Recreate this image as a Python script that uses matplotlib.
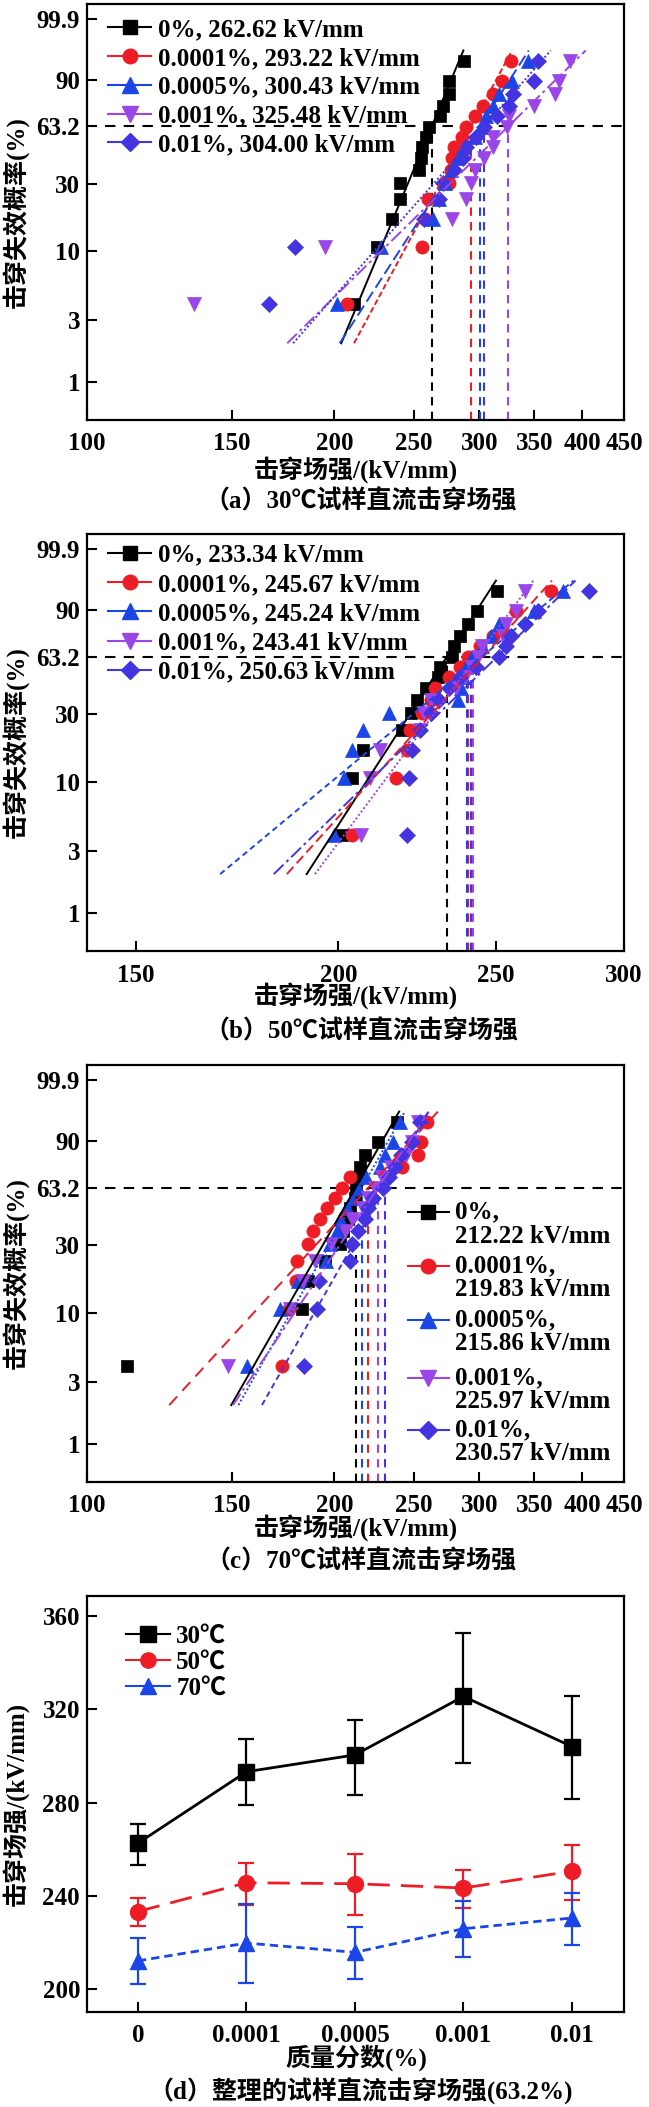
import numpy as np
import matplotlib
matplotlib.use("Agg")
import matplotlib.pyplot as plt
from matplotlib.lines import Line2D
from matplotlib.ticker import FixedLocator, FixedFormatter, NullLocator

plt.rcParams['font.family'] = ['Liberation Serif', 'Noto Sans CJK SC']
plt.rcParams['font.weight'] = 'bold'
plt.rcParams['font.size'] = 18
plt.rcParams['axes.linewidth'] = 1.6

# ---------------- data ----------------
contents = ["0%", "0.0001%", "0.0005%", "0.001%", "0.01%"]
# failure probability (%) of each rank
levels = [4.0, 10.7, 17.2, 23.6, 30.3, 36.8, 43.3, 50.0, 56.5, 63.0, 69.9, 76.5, 83.2, 89.7, 96.1]

# 30 C
eta_30 = [262.62, 293.22, 300.43, 325.48, 304.00]
beta_30 = [15.4, 11.9, 9.95, 6.3, 7.3]
a0 = [211.2, 225.1, 235.0, 240.3, 240.3, 253.5, 254.9, 255.6, 258.5, 260.7, 268.8, 271.0, 275.7, 275.7, 287.2]
a1 = [207.1, 255.7, 258.0, 260.2, 275.7, 277.4, 278.0, 279.6, 286.1, 288.8, 296.7, 303.6, 311.4, 319.4, 328.1]
a2 = [201.2, 227.7, 263.2, 267.8, 272.5, 277.4, 282.2, 287.5, 296.7, 302.5, 306.0, 312.2, 316.8, 328.9, 343.7]
a3 = [135.1, 194.7, 278.0, 288.8, 293.2, 296.7, 304.3, 312.2, 312.2, 324.3, 326.2, 349.7, 370.6, 375.0, 387.3]
a4 = [166.5, 179.1, 257.2, 267.8, 271.0, 279.6, 286.5, 288.8, 297.3, 304.3, 315.1, 326.2, 330.0, 349.7, 353.8]

# 50 C
eta_50 = [233.34, 245.67, 245.24, 243.41, 250.63]
beta_50 = [19.6, 14.0, 10.5, 17.0, 12.3]
vline_50 = [233.34, 240.3, 240.0, 242.0, 241.6]
b0 = [201.0, 203.9, 207.1, 219.0, 221.6, 223.6, 226.4, 230.3, 231.0, 235.1, 235.8, 237.6, 240.4, 243.5, 250.5]
b1 = [203.9, 217.2, 220.4, 221.4, 225.3, 228.0, 229.3, 234.1, 237.6, 240.4, 244.6, 249.0, 252.8, 257.3, 270.5]
b2 = [198.9, 201.5, 203.9, 207.2, 215.0, 236.9, 237.9, 238.7, 239.7, 241.8, 245.4, 248.3, 251.2, 264.1, 275.2]
b3 = [206.5, 209.2, 212.3, 224.5, 226.0, 228.0, 236.2, 239.5, 241.8, 243.9, 245.4, 252.8, 253.6, 257.3, 260.6]
b4 = [220.4, 221.2, 222.0, 224.7, 228.0, 230.7, 234.1, 237.6, 243.2, 251.2, 253.6, 255.6, 260.6, 265.7, 285.4]

# 70 C
eta_70 = [212.22, 219.83, 215.86, 225.97, 230.57]
beta_70 = [11.2, 7.0, 11.3, 9.6, 11.3]
c0 = [112.0, 182.8, 185.9, 194.8, 203.1, 205.0, 207.9, 208.9, 211.8, 212.4, 213.5, 214.8, 217.9, 226.1, 238.1]
c1 = [172.8, 176.1, 179.6, 180.1, 185.9, 188.2, 192.1, 195.7, 200.3, 204.1, 208.9, 241.5, 252.9, 254.5, 259.2]
c2 = [156.7, 171.7, 180.7, 195.3, 197.5, 201.6, 203.1, 207.0, 210.1, 213.6, 218.5, 227.2, 230.4, 235.8, 240.3]
c3 = [148.6, 176.6, 183.1, 189.2, 198.1, 206.0, 210.1, 216.8, 219.7, 223.8, 228.5, 234.4, 244.1, 248.5, 252.7]
c4 = [183.8, 190.3, 191.7, 208.8, 210.0, 213.6, 217.9, 219.7, 223.0, 229.1, 233.0, 237.2, 241.3, 248.4, 254.2]

# (d) summary at 63.2%, with error bar ends
cats = ["0", "0.0001", "0.0005", "0.001", "0.01"]
lo_30 = [253.1, 279.1, 283.4, 296.8, 281.6]
hi_30 = [270.9, 307.4, 315.5, 352.7, 325.7]
lo_50 = [227.0, 236.0, 231.7, 234.9, 238.4]
hi_50 = [239.1, 254.2, 258.1, 251.0, 262.0]
lo_70 = [202.3, 202.6, 204.4, 213.7, 219.2]
hi_70 = [222.0, 236.4, 226.5, 237.8, 241.2]

# ---------------- styles ----------------
colors = ['#000000', '#ee1c25', '#1a46e8', '#9b45e8', '#4433e0']
markers = ['s', 'o', '^', 'v', 'D']
msizes = [8.5, 9.5, 10.5, 10.5, 8.5]
styles_a = ['-', (0, (3, 1.5)), (0, (6, 2.5)), (0, (7, 2, 1.5, 2)), (0, (1, 1.2))]
styles_b = ['-', (0, (5, 2.5)), (0, (3, 2)), (0, (1, 1.2)), (0, (7, 2, 1.5, 2))]
styles_c = ['-', (0, (6, 4)), (0, (1, 1.2)), (0, (7, 2, 1.5, 2)), (0, (3, 2))]

W_PX, H_PX = 649, 2107
fig = plt.figure(figsize=(W_PX / 100, H_PX / 100), dpi=100)


def add_ax(top, bottom):
    return fig.add_axes([87 / W_PX, 1 - bottom / H_PX, 537 / W_PX, (bottom - top) / H_PX])


def wb(F):
    F = np.clip(np.asarray(F, dtype=float), 1e-6, 100 - 1e-9)
    return np.log(-np.log(1 - F / 100))


def wb_inv(w):
    return 100 * (1 - np.exp(-np.exp(w)))


def weibull_panel(ax, series, etas, betas, vlines, styles, xlim, xticks):
    ax.set_xscale('log')
    ax.set_yscale('function', functions=(wb, wb_inv))
    for i, pts in enumerate(series):
        ax.plot(pts, levels, ls='none', marker=markers[i], ms=msizes[i],
                color=colors[i], mec=colors[i], mew=0.5, zorder=3)
        # fitted Weibull line between 2% and 98%
        xs = [etas[i] * (-np.log(1 - 0.02)) ** (1 / betas[i]),
              etas[i] * (-np.log(0.02)) ** (1 / betas[i])]
        ax.plot(xs, [2, 98], color=colors[i], ls=styles[i], lw=1.4, zorder=4)
    ylo = 0.507
    for i, v in enumerate(vlines):
        ax.plot([v, v], [ylo, 63.2], color=colors[i], ls=(0, (4, 3)), lw=1.5, zorder=2)
    ax.axhline(63.2, xmin=0.034, color='black', ls=(0, (5, 4)), lw=1.5, zorder=2)
    ax.set_xlim(*xlim)
    ax.set_ylim(ylo, 99.988)
    ax.xaxis.set_major_locator(FixedLocator(xticks))
    ax.xaxis.set_major_formatter(FixedFormatter([str(t) for t in xticks]))
    ax.xaxis.set_minor_locator(NullLocator())
    ax.yaxis.set_major_locator(FixedLocator([1, 3, 10, 30, 63.2, 90, 99.9]))
    ax.yaxis.set_major_formatter(FixedFormatter(['1', '3', '10', '30', '63.2', '90', '99.9']))
    ax.yaxis.set_minor_locator(NullLocator())
    ax.tick_params(direction='in', length=7, width=1.5, top=False, right=False, labelsize=18)
    ax.tick_params(axis='x', pad=9)
    ax.tick_params(axis='y', pad=5)


def key_handles(lw=1.5):
    return [Line2D([], [], color=colors[i], marker=markers[i], ms=msizes[i] + 1,
                   mec=colors[i], lw=lw) for i in range(5)]


ticks_wide = [100, 150, 200, 250, 300, 350, 400, 450]

# (a) 30 C
ax_a = add_ax(4, 420)
weibull_panel(ax_a, [a0, a1, a2, a3, a4], eta_30, beta_30, eta_30, styles_a,
              (100, 450), ticks_wide)
ax_a.legend(key_handles(), [f"{c}, {e:.2f} kV/mm" for c, e in zip(contents, eta_30)],
            loc='upper left', bbox_to_anchor=(0.04, 0.966), frameon=False,
            borderpad=0, borderaxespad=0, handlelength=1.7, handletextpad=0.3,
            labelspacing=0.23, fontsize=18)

# (b) 50 C
ax_b = add_ax(534, 951)
weibull_panel(ax_b, [b0, b1, b2, b3, b4], eta_50, beta_50, vline_50, styles_b,
              (140, 300), [150, 200, 250, 300])
ax_b.legend(key_handles(), [f"{c}, {e:.2f} kV/mm" for c, e in zip(contents, eta_50)],
            loc='upper left', bbox_to_anchor=(0.04, 0.977), frameon=False,
            borderpad=0, borderaxespad=0, handlelength=1.7, handletextpad=0.3,
            labelspacing=0.25, fontsize=18)

# (c) 70 C
ax_c = add_ax(1065, 1482)
weibull_panel(ax_c, [c0, c1, c2, c3, c4], eta_70, beta_70, eta_70, styles_c,
              (100, 450), ticks_wide)
# key on the right, two text lines per entry, handle beside the first line
key_rows = [1212, 1266, 1320, 1378, 1430]
for i, row in enumerate(key_rows):
    ya = (1482 - row) / 417
    x0, x1, xm, xt = [(p - 87) / 537 for p in (407.7, 449.0, 428.4, 455.0)]
    ax_c.plot([x0, x1], [ya, ya], color=colors[i], lw=1.5, transform=ax_c.transAxes, clip_on=False)
    ax_c.plot([xm], [ya], marker=markers[i], ms=msizes[i] + 1, color=colors[i],
              transform=ax_c.transAxes, clip_on=False)
    ax_c.text(xt, ya, contents[i] + ",", transform=ax_c.transAxes, va='center', ha='left', fontsize=18)
    ax_c.text(xt, ya - 24 / 417, f"{eta_70[i]:.2f} kV/mm", transform=ax_c.transAxes,
              va='center', ha='left', fontsize=18)

# (d) summary
ax_d = add_ax(1596, 2012)
x = np.arange(len(cats))
sets = [(eta_30, lo_30, hi_30, '30℃', '-', 's', colors[0]),
        (eta_50, lo_50, hi_50, '50℃', (0, (8, 4)), 'o', colors[1]),
        (eta_70, lo_70, hi_70, '70℃', (0, (3, 1.8)), '^', colors[2])]
for vals, lo, hi, lab, ls, mk, col in sets:
    vals = np.array(vals)
    err = [vals - np.array(lo), np.array(hi) - vals]
    ax_d.errorbar(x, vals, yerr=err, color=col, ls=ls, lw=2, marker=mk, ms=11.5,
                  capsize=6, elinewidth=1.6, capthick=1.6, label=lab)
ax_d.set_xlim(-0.47, 4.48)
ax_d.set_ylim(190.3, 368.5)
ax_d.set_xticks(x)
ax_d.set_xticklabels(cats)
ax_d.set_yticks([200, 240, 280, 320, 360])
ax_d.tick_params(direction='in', length=7, width=1.5, top=False, right=False, labelsize=18)
ax_d.tick_params(axis='x', pad=9)
ax_d.tick_params(axis='y', pad=5)
d_handles = [Line2D([], [], color=s[6], marker=s[5], ms=11, lw=1.5) for s in sets]
ax_d.legend(d_handles, [s[3] for s in sets], loc='upper left', bbox_to_anchor=(0.073, 0.932),
            frameon=False, borderpad=0, borderaxespad=0, handlelength=1.75,
            handletextpad=0.25, labelspacing=0.12, fontsize=18)

# axis titles and captions
cx = 356 / W_PX
for yl, yc, cap in [(470, 501.7, "（a）30℃试样直流击穿场强"),
                    (996.7, 1031.7, "（b）50℃试样直流击穿场强"),
                    (1528, 1561.7, "（c）70℃试样直流击穿场强")]:
    fig.text(cx, 1 - yl / H_PX, "击穿场强/(kV/mm)", ha='center', va='center', fontsize=18)
    fig.text(361 / W_PX, 1 - yc / H_PX, cap, ha='center', va='center', fontsize=18)
fig.text(cx, 1 - 2058 / H_PX, "质量分数(%)", ha='center', va='center', fontsize=18)
fig.text(361 / W_PX, 1 - 2091.7 / H_PX, "（d）整理的试样直流击穿场强(63.2%)",
         ha='center', va='center', fontsize=18)

for ax, yc in [(ax_a, 212), (ax_b, 742.5), (ax_c, 1273.5)]:
    fig.text(16.5 / W_PX, 1 - yc / H_PX, "击穿失效概率(%)", rotation=90,
             ha='center', va='center', fontsize=18)
fig.text(16.5 / W_PX, 1 - 1804 / H_PX, "击穿场强/(kV/mm)", rotation=90,
         ha='center', va='center', fontsize=18)

fig.savefig("out.png", dpi=100)
